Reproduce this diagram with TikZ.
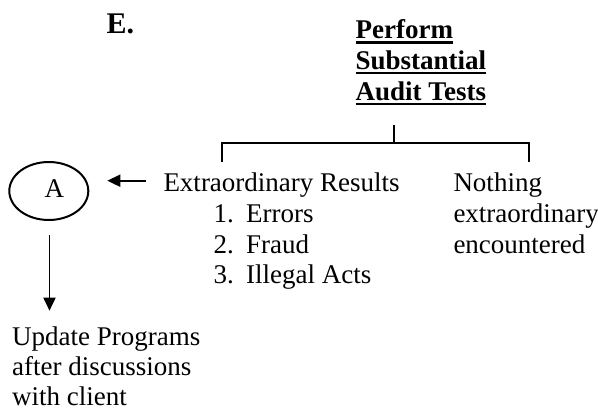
\documentclass[tikz,border=0pt]{standalone}
\usepackage{fontspec}
\setmainfont{Liberation Serif}
\usetikzlibrary{arrows.meta,shapes.geometric}
\begin{document}
\begin{tikzpicture}[x=1pt,y=-1pt,
 txt/.style={anchor=base west, inner sep=0pt, font=\fontsize{27}{31}\selectfont},
 btxt/.style={anchor=base west, inner sep=0pt, font=\fontsize{27}{31}\selectfont\bfseries},
 ln/.style={line width=2pt},
 arr/.style={line width=1.8pt,-{Triangle[length=13pt,width=12pt]}}]
\path[use as bounding box] (0,0) rectangle (598,413);
% heading
\node[anchor=base west, inner sep=0pt, font=\fontsize{30}{34}\selectfont\bfseries] (E) at (106.5,33.3) {E.};
\node[btxt] (p1) at (355.5,38.5) {Perform};
\node[btxt] (p2) at (355.5,69) {Substantial};
\node[btxt] (p3) at (355.5,100) {Audit Tests};
\foreach \n in {p1,p2,p3}
  \draw[line width=2.4pt] ([yshift=-3.8pt]\n.base west) -- ([yshift=-3.8pt]\n.base east);
% bracket
\coordinate (stem) at (394,125);
\coordinate (bar) at (394,143.3);
\coordinate (bl) at (221.7,143.3);
\coordinate (br) at (528.7,143.3);
\coordinate (blb) at (221.7,162);
\coordinate (brb) at (528.7,162);
\draw[ln] (stem) -- (bar);
\draw[ln] (blb) -- (bl) -- (br) -- (brb);
% left branch
\node[txt] (ext) at (163.3,191.7) {Extraordinary Results};
\node[txt] (n1) at (213.3,222) {1.};
\node[txt] (e1) at (246,222) {Errors};
\node[txt] (n2) at (213.3,253) {2.};
\node[txt] (e2) at (246,253) {Fraud};
\node[txt] (n3) at (213.3,283.3) {3.};
\node[txt] (e3) at (246,283.3) {Illegal Acts};
% right branch
\node[txt] (r1) at (453.3,191.7) {Nothing};
\node[txt] (r2) at (453.3,222.5) {extraordinary};
\node[txt] (r3) at (453.3,253.3) {encountered};
% connector A
\node[draw, ellipse, line width=2pt, minimum width=79pt, minimum height=58pt, inner sep=0pt,
      font=\fontsize{27}{31}\selectfont] (A) at (48.8,191) {\hspace*{11pt}\raisebox{5pt}{A}};
\coordinate (as) at (145.7,180.7);
\draw[arr] (as) -- ([xshift=18pt]as -| A.east);
\coordinate (ds) at (49.5,235);
\coordinate (de) at (49.5,310.7);
\draw[arr] (ds) -- (de);
% bottom text
\node[txt] (u1) at (12,345) {Update Programs};
\node[txt] (u2) at (12,375) {after discussions};
\node[txt] (u3) at (12,405) {with client};
\end{tikzpicture}
\end{document}
